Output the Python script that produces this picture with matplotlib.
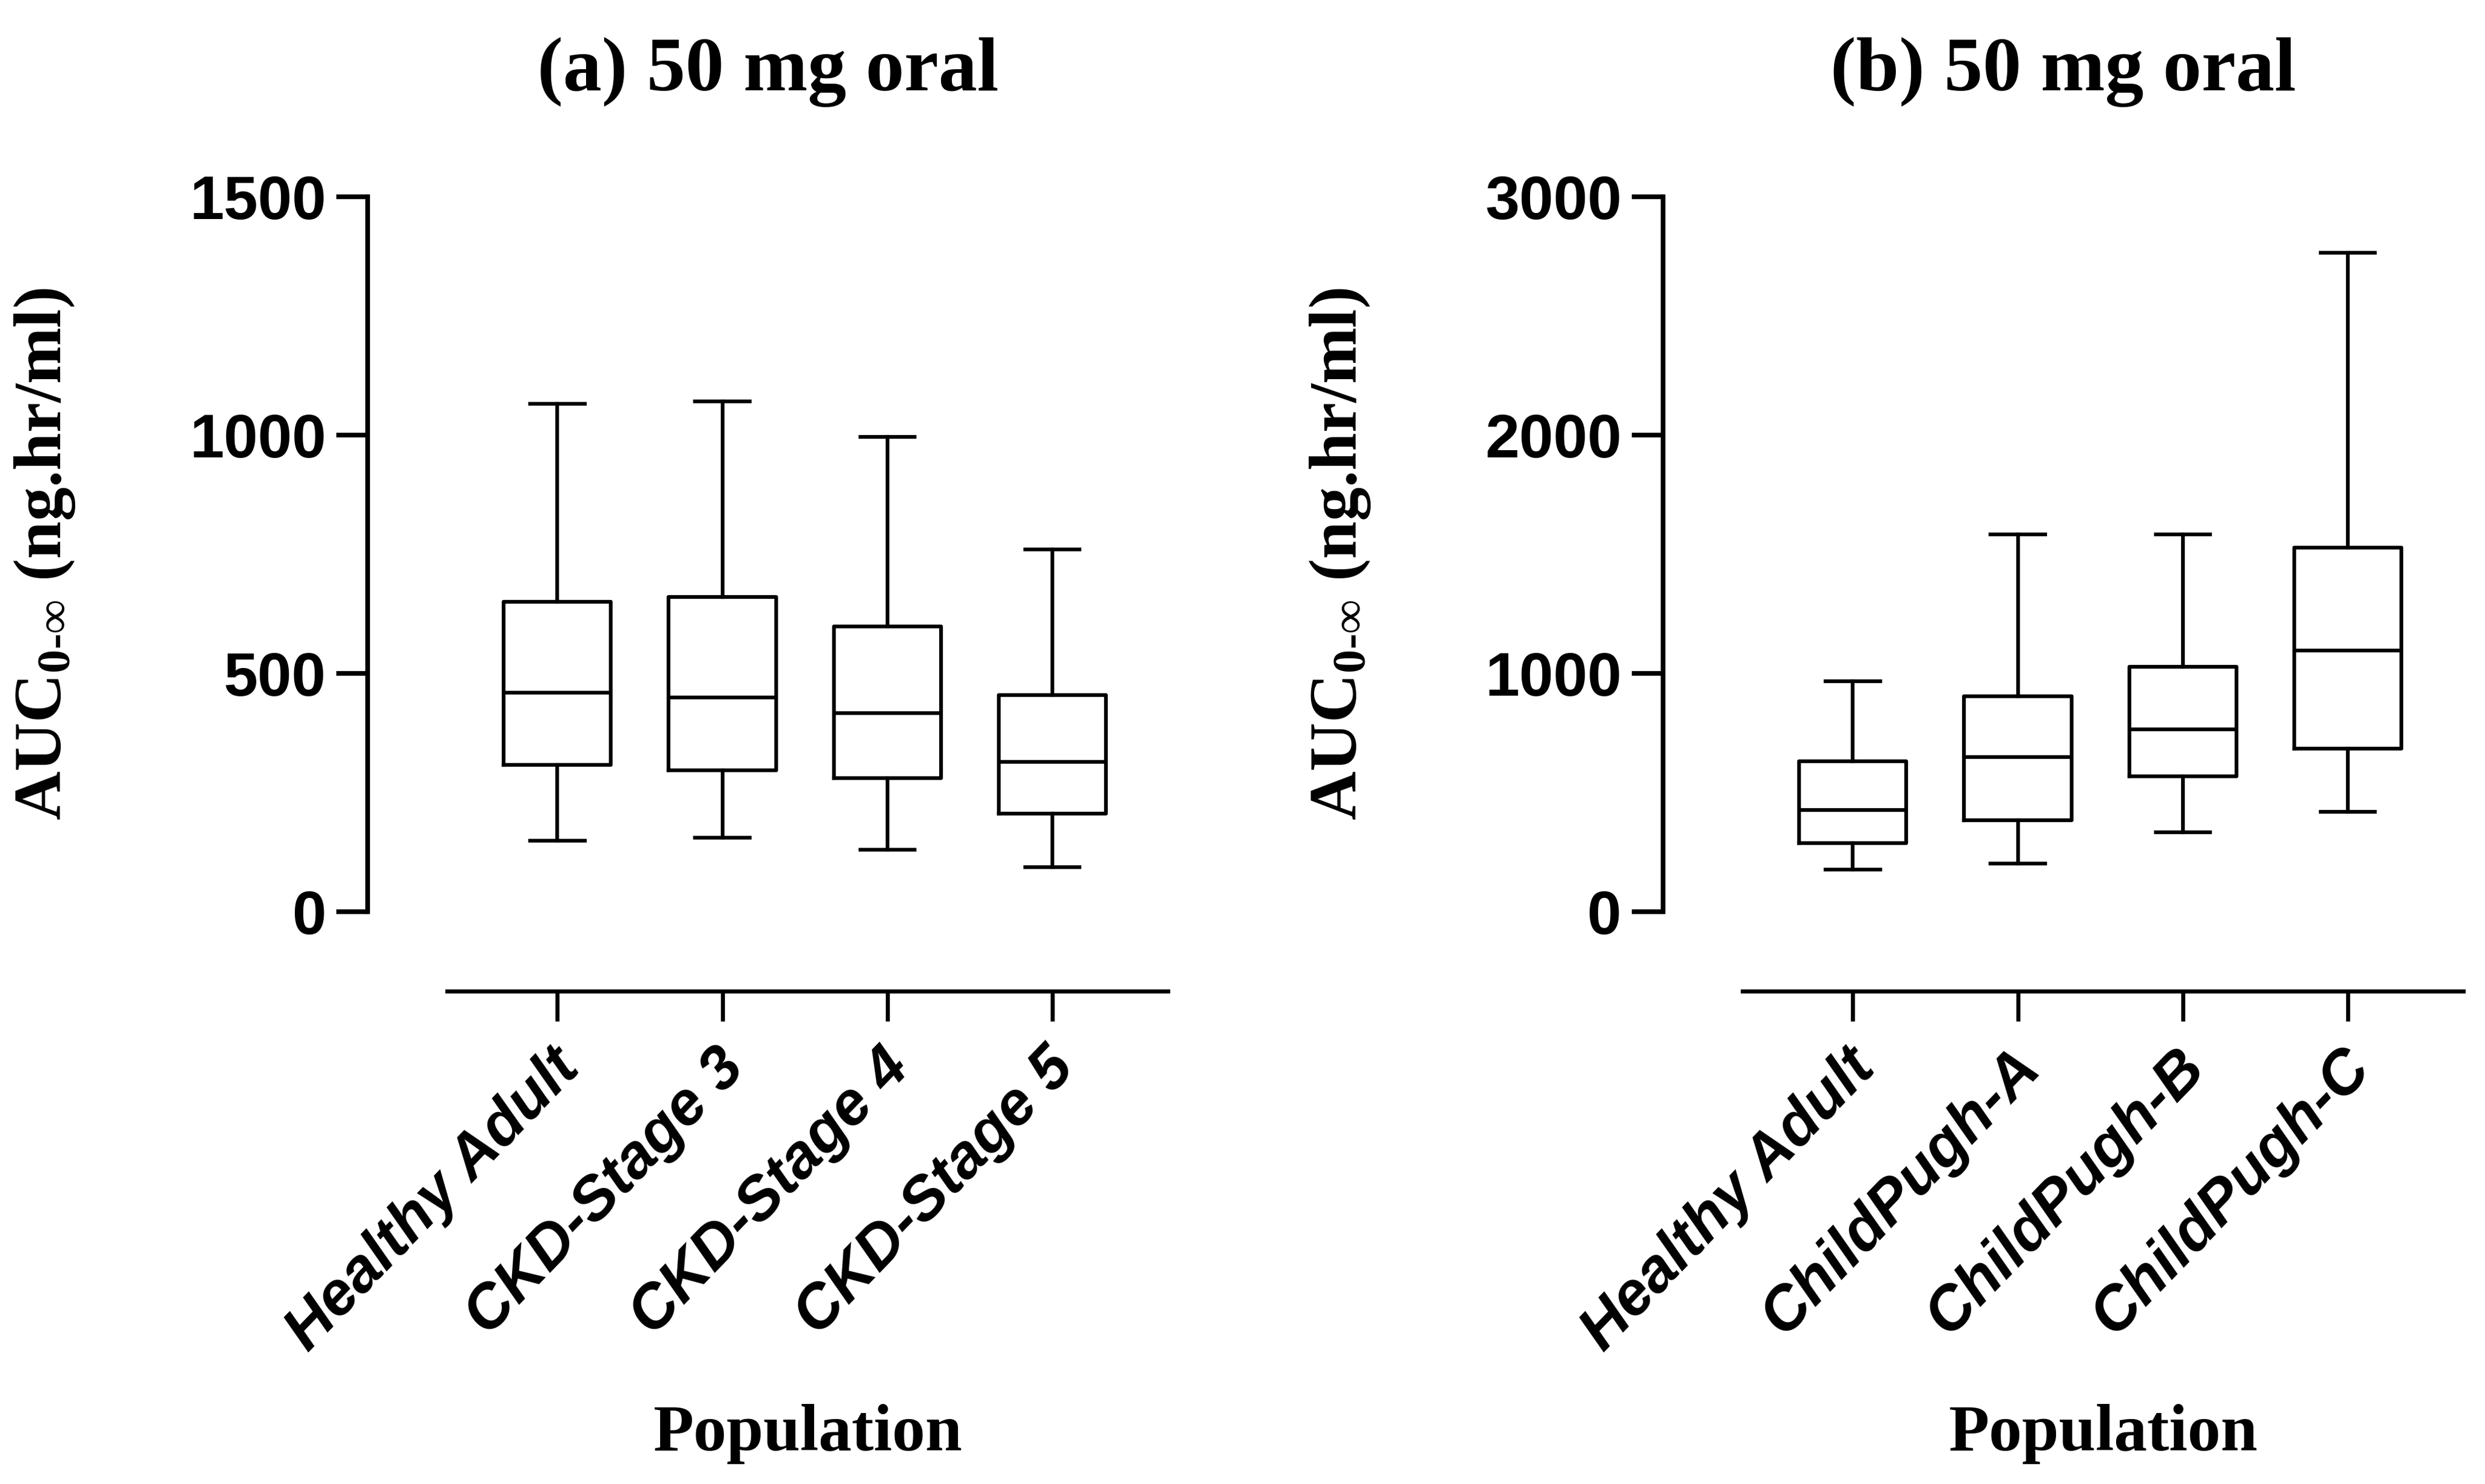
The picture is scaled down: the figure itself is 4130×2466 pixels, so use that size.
import matplotlib
matplotlib.use('Agg')
import matplotlib.pyplot as plt
from matplotlib.transforms import ScaledTranslation

# box statistics (AUC, ng.hr/ml)
renal_groups = ['Healthy Adult', 'CKD-Stage 3', 'CKD-Stage 4', 'CKD-Stage 5']
renal_whislo = [149, 155, 130, 94]
renal_q1 = [308, 297, 280, 206]
renal_med = [460, 449, 417, 314]
renal_q3 = [650, 660, 599, 454]
renal_whishi = [1066, 1071, 996, 760]

hepatic_groups = ['Healthy Adult', 'ChildPugh-A', 'ChildPugh-B', 'ChildPugh-C']
hepatic_whislo = [176, 203, 333, 419]
hepatic_q1 = [288, 383, 568, 685]
hepatic_med = [428, 649, 766, 1097]
hepatic_q3 = [631, 905, 1029, 1527]
hepatic_whishi = [968, 1583, 1583, 2764]

renal_yticks = [0, 500, 1000, 1500]
hepatic_yticks = [0, 1000, 2000, 3000]

plt.rcParams['mathtext.fontset'] = 'custom'
plt.rcParams['mathtext.rm'] = 'Liberation Serif:bold'
plt.rcParams['mathtext.bf'] = 'Liberation Serif:bold'
plt.rcParams['mathtext.default'] = 'regular'

W, H = 4130, 2466
fig = plt.figure(figsize=(W/300, H/300), dpi=300)

serif = dict(family='Liberation Serif', fontweight='bold')
sans = 'Liberation Sans'


def make_stats(lo, q1, med, q3, hi):
    return [dict(whislo=a, q1=b, med=c, q3=d, whishi=e, fliers=[])
            for a, b, c, d, e in zip(lo, q1, med, q3, hi)]


def panel(ax, groups, stats, yticks, title):
    pos = list(range(len(groups)))
    lw = 1.5
    ax.bxp(stats, positions=pos, widths=0.65, capwidths=0.33, showfliers=False,
           boxprops=dict(color='black', lw=lw),
           whiskerprops=dict(color='black', lw=lw),
           capprops=dict(color='black', lw=lw),
           medianprops=dict(color='black', lw=lw))
    ax.set_xlim(-1.15, 3.7)
    ax.set_ylim(yticks[0], yticks[-1])
    for s in ['top', 'right']:
        ax.spines[s].set_visible(False)
    ax.spines['left'].set_linewidth(1.85)
    ax.spines['left'].set_bounds(yticks[0], yticks[-1])
    ax.spines['bottom'].set_linewidth(1.6)
    ax.spines['bottom'].set_position(('outward', 31.7))
    ax.spines['bottom'].set_bounds(-0.67, 3.7)
    ax.tick_params(axis='y', length=12.5, width=1.85, pad=4)
    ax.tick_params(axis='x', length=12, width=1.6, pad=15)
    ax.set_yticks(yticks)
    ax.set_yticklabels([str(t) for t in yticks], family=sans, fontweight='bold', fontsize=24.5)
    ax.set_xticks(pos)
    labels = ax.set_xticklabels(groups, rotation=46, ha='right', va='center', rotation_mode='anchor',
                                family=sans, fontweight='bold', fontstyle='italic', fontsize=24.5)
    shift = ScaledTranslation(5/72, 0, fig.dpi_scale_trans)
    for lab in labels:
        lab.set_transform(lab.get_transform() + shift)
    ax.set_title(title, fontsize=30.8, pad=42.5, **serif)
    ax.set_ylabel(r'AUC$_{0\text{-}\infty}$ (ng.hr/ml)', fontsize=27, labelpad=45, **serif)
    ax.set_xlabel('Population', fontsize=26.4, **serif)
    ax.xaxis.label.set_va('baseline')
    ax.xaxis.set_label_coords((1.515 + 1.15) / 4.85, -0.7534)


ax_a = fig.add_axes([611/W, 1 - 1515/H, 1330/W, 1188/H])
ax_b = fig.add_axes([2764/W, 1 - 1515/H, 1330/W, 1188/H])

panel(ax_a, renal_groups,
      make_stats(renal_whislo, renal_q1, renal_med, renal_q3, renal_whishi),
      renal_yticks, '(a) 50 mg oral')
panel(ax_b, hepatic_groups,
      make_stats(hepatic_whislo, hepatic_q1, hepatic_med, hepatic_q3, hepatic_whishi),
      hepatic_yticks, '(b) 50 mg oral')

fig.savefig('out.png', dpi=300)
